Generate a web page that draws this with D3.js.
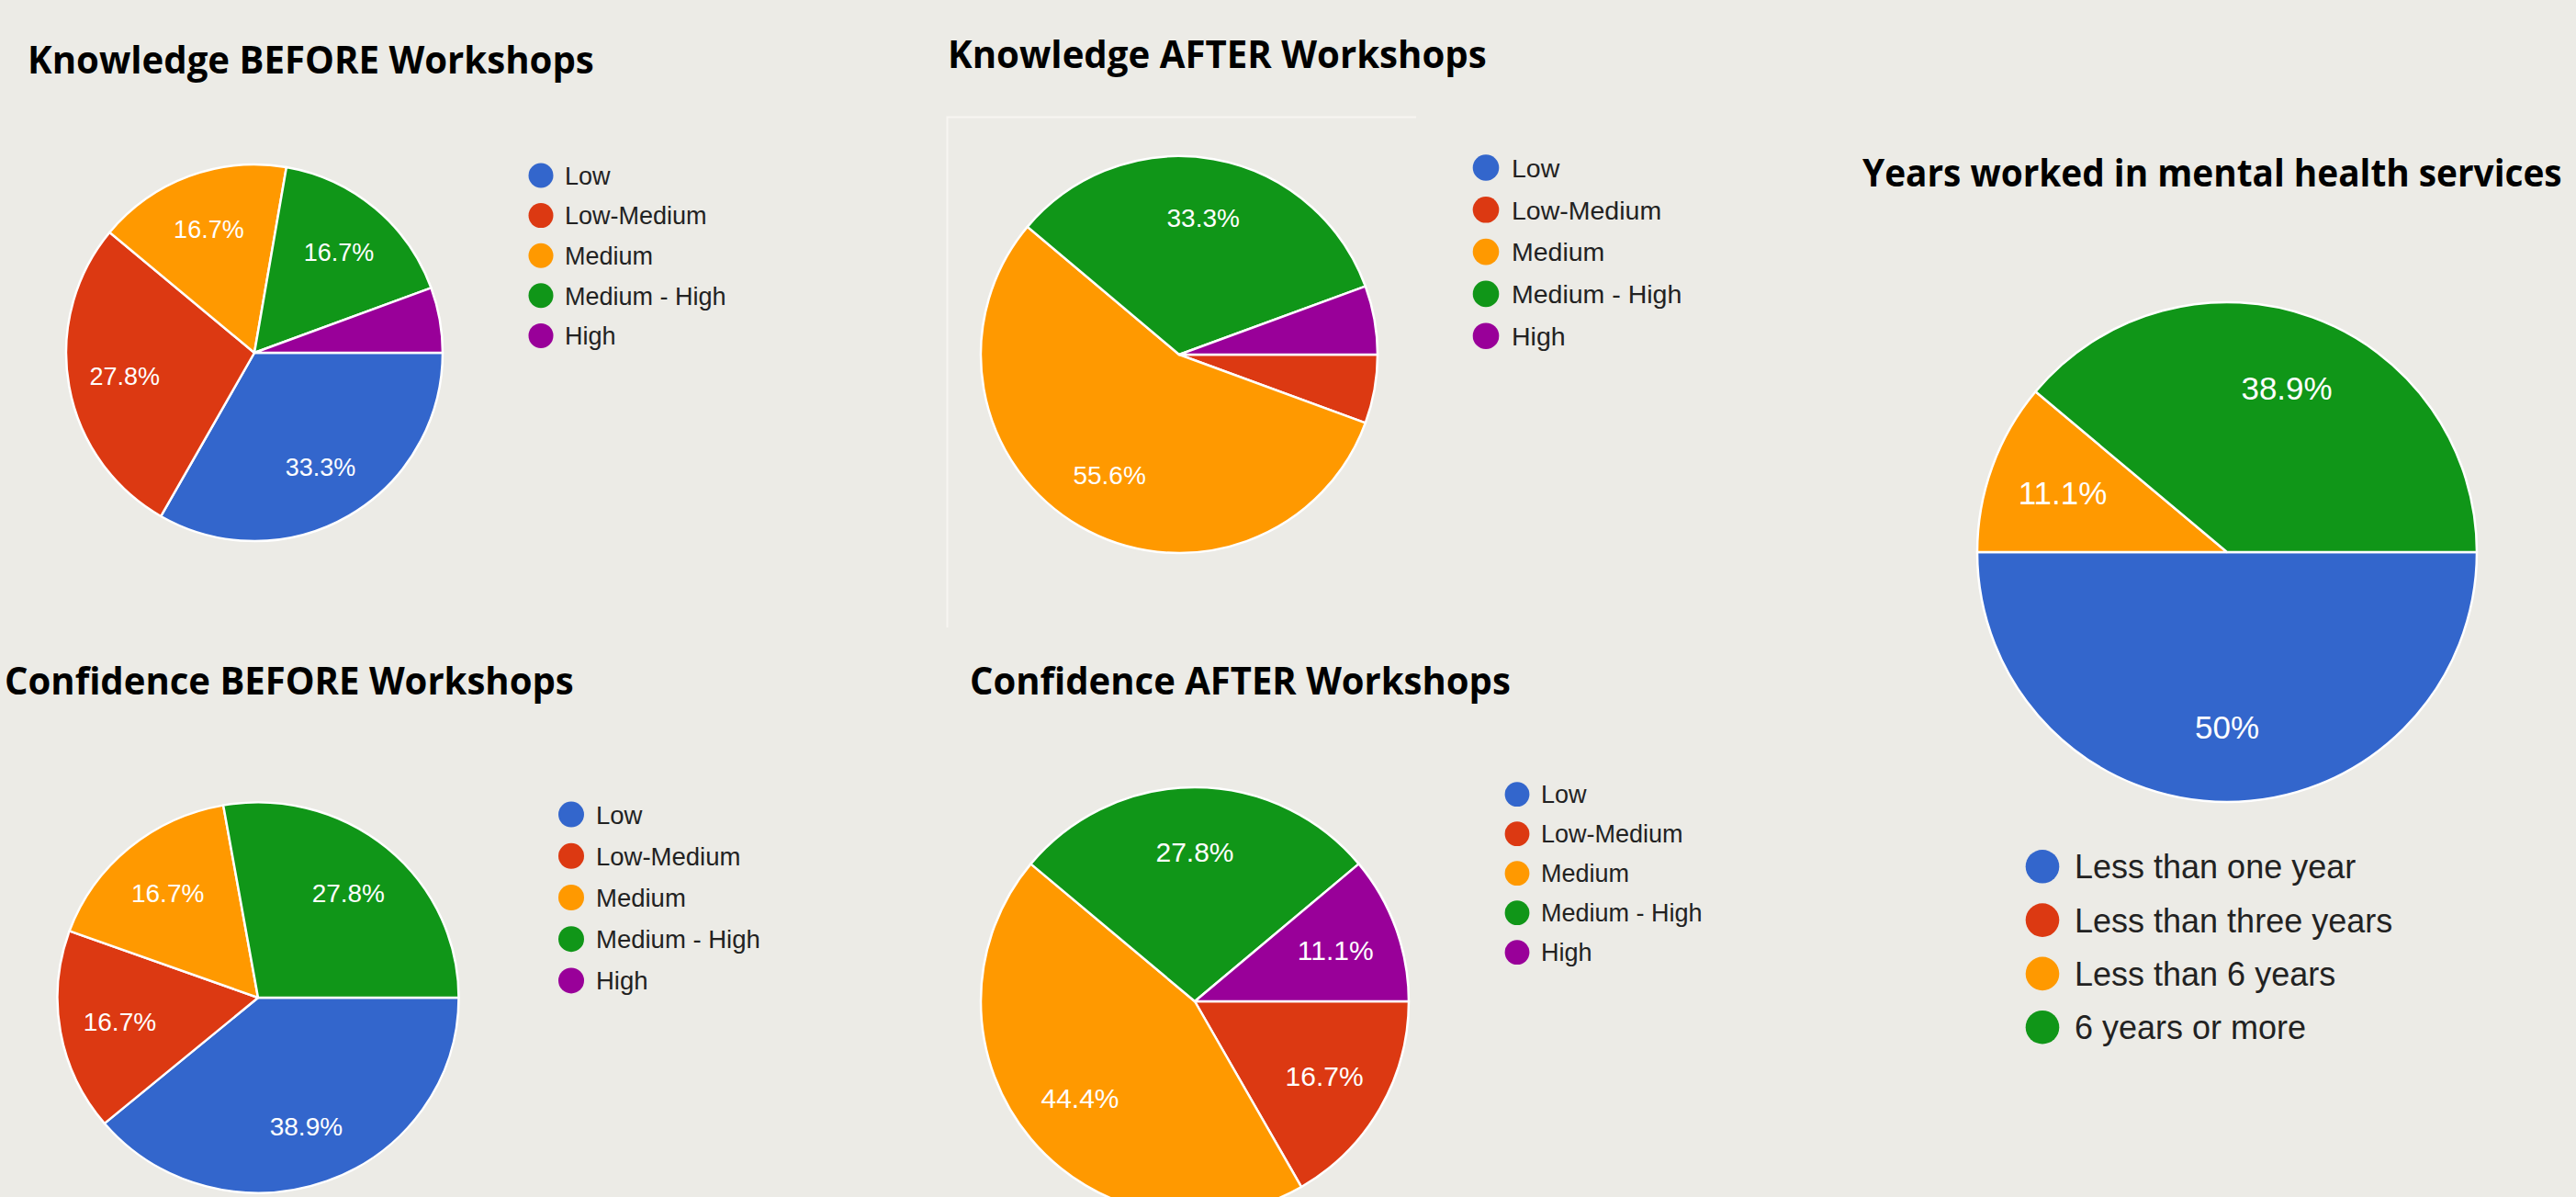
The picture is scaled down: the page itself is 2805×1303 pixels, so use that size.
<!DOCTYPE html>
<html>
<head>
<meta charset="utf-8">
<script src="https://cdn.jsdelivr.net/npm/d3@7"></script>
<style>
  html, body { margin: 0; padding: 0; background: #ecebe6; overflow: hidden; }
  svg { display: block; }
</style>
</head>
<body>
<div id="chart"></div>
<script>
// survey answers, percent of respondents (n = 18)
const levels = ["Low", "Low-Medium", "Medium", "Medium - High", "High"];
const yearGroups = ["Less than one year", "Less than three years", "Less than 6 years", "6 years or more"];
const palette = ["#3366cc", "#dc3912", "#ff9900", "#109618", "#990099"];

const knowledgeBefore = [33.3, 27.8, 16.7, 16.7, 5.6];
const knowledgeAfter = [0, 5.6, 55.6, 33.3, 5.6];
const confidenceBefore = [38.9, 16.7, 16.7, 27.8, 0];
const confidenceAfter = [0, 16.7, 44.4, 27.8, 11.1];
const yearsWorked = [50, 0, 11.1, 38.9];

const W = 2805, H = 1303;

// layout of each panel (positions only)
const panels = [
  { title: "Knowledge BEFORE Workshops", tx: 30, ty: 80, tw: 617, cats: levels, values: knowledgeBefore,
    cx: 277, cy: 384, r: 205, sy: 1, lfs: 27,
    lx: 589, ly: 191, ldy: 43.6, lr: 13.5, lfont: 27, ltx: 615 },
  { title: "Knowledge AFTER Workshops", tx: 1032, ty: 74, tw: 587, cats: levels, values: knowledgeAfter,
    cx: 1284, cy: 386, r: 216, sy: 1, lfs: 28,
    lx: 1618, ly: 182.5, ldy: 45.8, lr: 14.3, lfont: 28.5, ltx: 1646 },
  { title: "Confidence BEFORE Workshops", tx: 5, ty: 756, tw: 620, cats: levels, values: confidenceBefore,
    cx: 281, cy: 1086, r: 218.5, sy: 0.973, lfs: 28,
    lx: 622, ly: 886.6, ldy: 45.2, lr: 14, lfont: 27.5, ltx: 649 },
  { title: "Confidence AFTER Workshops", tx: 1056, ty: 756, tw: 589, cats: levels, values: confidenceAfter,
    cx: 1301, cy: 1090, r: 233, sy: 1, lfs: 30,
    lx: 1652, ly: 864.7, ldy: 43, lr: 13.4, lfont: 27, ltx: 1678 },
  { title: "Years worked in mental health services", tx: 2028, ty: 203, tw: 762, cats: yearGroups, values: yearsWorked,
    cx: 2425, cy: 601, r: 272, sy: 1, lfs: 35,
    lx: 2224, ly: 943.3, ldy: 58.3, lr: 18.3, lfont: 36, ltx: 2259 }
];

const svg = d3.select("#chart")
  .append("svg")
  .attr("width", W)
  .attr("height", H)
  .attr("viewBox", [0, 0, W, H]);

svg.append("rect")
  .attr("width", W)
  .attr("height", H)
  .attr("fill", "#ecebe6");

// faint frame left over around the Knowledge AFTER chart
svg.append("path")
  .attr("d", "M1542,127.5 H1031.5 V683")
  .attr("fill", "none")
  .attr("stroke", "#f7f6f2")
  .attr("stroke-width", 2);

const pie = d3.pie()
  .sort(null)
  .value(d => d.value)
  .startAngle(Math.PI / 2)
  .endAngle(Math.PI / 2 + 2 * Math.PI);

const fmt = v => (Math.round(v * 10) / 10).toString().replace(/\.0$/, "") + "%";

const titleSize = 42;

for (let p of panels) {
  const data = p.cats.map((c, i) => ({ cat: c, value: p.values[i] }));
  const color = d3.scaleOrdinal().domain(p.cats).range(palette);

  // narrow bold title: shrink the font to the slide width, then stretch it back up
  const tg = svg.append("g");
  const title = tg.append("text")
    .attr("x", 0)
    .attr("y", 0)
    .style("font-family", "'Open Sans', Lato, sans-serif")
    .style("font-weight", 700)
    .style("font-size", titleSize + "px")
    .attr("fill", "#000")
    .text(p.title);
  const natural = title.node().getComputedTextLength();
  const fs = titleSize * p.tw / natural;
  title.style("font-size", fs + "px");
  tg.attr("transform", `translate(${p.tx},${p.ty}) scale(1,${titleSize / fs})`);

  const arc = d3.arc().innerRadius(0).outerRadius(p.r);
  const labelArc = d3.arc().innerRadius(p.r * 0.7).outerRadius(p.r * 0.7);
  const arcs = pie(data);

  const g = svg.append("g")
    .attr("transform", `translate(${p.cx},${p.cy}) scale(1,${p.sy})`);

  g.selectAll("path")
    .data(arcs.filter(d => d.data.value > 0))
    .join("path")
    .attr("d", arc)
    .attr("fill", d => color(d.data.cat))
    .attr("stroke", "#ffffff")
    .attr("stroke-width", 2.5)
    .attr("stroke-linejoin", "round");

  svg.append("g")
    .attr("transform", `translate(${p.cx},${p.cy})`)
    .selectAll("text")
    .data(arcs.filter(d => d.data.value >= 8))
    .join("text")
    .attr("x", d => labelArc.centroid(d)[0])
    .attr("y", d => labelArc.centroid(d)[1] * p.sy)
    .attr("dy", "0.36em")
    .attr("text-anchor", "middle")
    .style("font-family", "'Liberation Sans', Arial, sans-serif")
    .style("font-size", p.lfs + "px")
    .attr("fill", "#ffffff")
    .text(d => fmt(d.data.value));

  const leg = svg.append("g")
    .selectAll("g")
    .data(data)
    .join("g")
    .attr("transform", (d, i) => `translate(0,${p.ly + i * p.ldy})`);

  leg.append("circle")
    .attr("cx", p.lx)
    .attr("cy", 0)
    .attr("r", p.lr)
    .attr("fill", d => color(d.cat));

  leg.append("text")
    .attr("x", p.ltx)
    .attr("y", 0)
    .attr("dy", "0.36em")
    .style("font-family", "'Liberation Sans', Arial, sans-serif")
    .style("font-size", p.lfont + "px")
    .attr("fill", "#222222")
    .text(d => d.cat);
}
</script>
</body>
</html>
